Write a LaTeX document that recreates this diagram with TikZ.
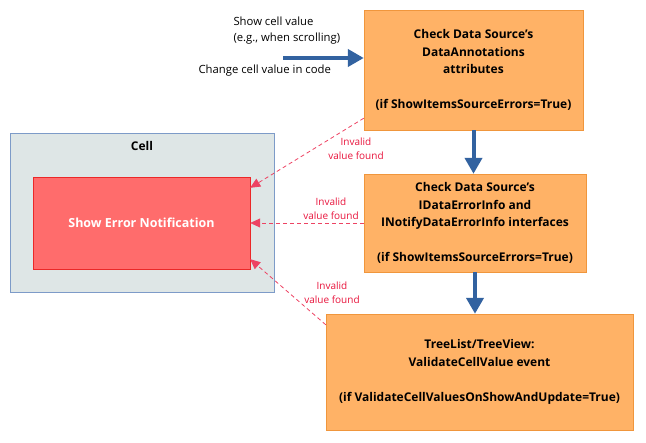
\documentclass[tikz,border=0pt]{standalone}
\usepackage{fontspec}
\setmainfont{Open Sans}
\usetikzlibrary{arrows.meta}
\definecolor{arancio}{RGB}{255,178,102}
\definecolor{bordoarancio}{RGB}{240,150,60}
\definecolor{cella}{RGB}{222,230,230}
\definecolor{bordocella}{RGB}{125,155,200}
\definecolor{rosso}{RGB}{255,108,108}
\definecolor{bordorosso}{RGB}{235,40,40}
\definecolor{blu}{RGB}{50,98,160}
\definecolor{rossoscuro}{RGB}{232,20,60}
\tikzset{
    passo/.style={draw=bordoarancio, fill=arancio, align=center, font=\fontsize{12}{17.5}\selectfont\bfseries},
    freccia/.style={blu, line width=4pt, -{Triangle[length=16pt,width=17pt]}},
    errfreccia/.style={rossoscuro!80!white, line width=0.8pt, dash pattern=on 4pt off 3pt, -{Triangle[length=10pt,width=9pt]}},
    etichetta/.style={rossoscuro, align=center, font=\fontsize{10}{14}\selectfont}
}
\begin{document}
\begin{tikzpicture}[x=1pt, y=-1pt]
    \useasboundingbox (0,0) rectangle (646,443);

    %cella
    \node[draw=bordocella, fill=cella, minimum width=264pt, minimum height=159pt, line width=0.8pt] (cella) at (142,212.5) {};
    \node[font=\fontsize{12}{14}\selectfont\bfseries] (titolo) at (142,146) {Cell};
    \node[draw=bordorosso, fill=rosso, minimum width=217pt, minimum height=92pt, text=white, font=\fontsize{12.5}{14}\selectfont\bfseries] (errore) at (141.5,223) {Show Error Notification};

    %controlli
    \node[passo, minimum width=219pt, minimum height=120pt] (p1) at (473.5,70) {Check Data Source's\\DataAnnotations\\attributes\\[17.5pt](if ShowItemsSourceErrors=True)};
    \node[passo, minimum width=222pt, minimum height=98pt] (p2) at (475,223) {Check Data Source's\\IDataErrorInfo and\\INotifyDataErrorInfo interfaces\\[17.5pt](if ShowItemsSourceErrors=True)};
    \node[passo, minimum width=307pt, minimum height=116pt] (p3) at (479.5,372) {TreeList/TreeView:\\ValidateCellValue event\\[17.5pt](if ValidateCellValuesOnShowAndUpdate=True)};

    %ingresso
    \node[anchor=west, align=left, font=\fontsize{11.3}{16}\selectfont] (mostra) at (230,31) {Show cell value\\(e.g., when scrolling)};
    \node[anchor=west, font=\fontsize{11.3}{13}\selectfont] (cambia) at (195,71) {Change cell value in code};
    \coordinate (ingresso) at (283,58);
    \draw[freccia] (ingresso) -- (p1.west |- ingresso);

    %frecce blu
    \draw[freccia] (p1.south) -- (p1.south |- p2.north);
    \draw[freccia] (p2.south) -- (p2.south |- p3.north);

    %valori non validi
    \draw[errfreccia] ([yshift=12pt]p1.south west) -- ([yshift=-11pt]errore.north east);
    \draw[errfreccia] (p2.west) -- (errore.east);
    \draw[errfreccia] ([yshift=-11pt]p3.north west) -- ([yshift=10pt]errore.south east);
    \node[etichetta] (lab1) at (356,149) {Invalid\\value found};
    \node[etichetta] (lab2) at (331,209) {Invalid\\value found};
    \node[etichetta] (lab3) at (332,293) {Invalid\\value found};
\end{tikzpicture}
\end{document}
